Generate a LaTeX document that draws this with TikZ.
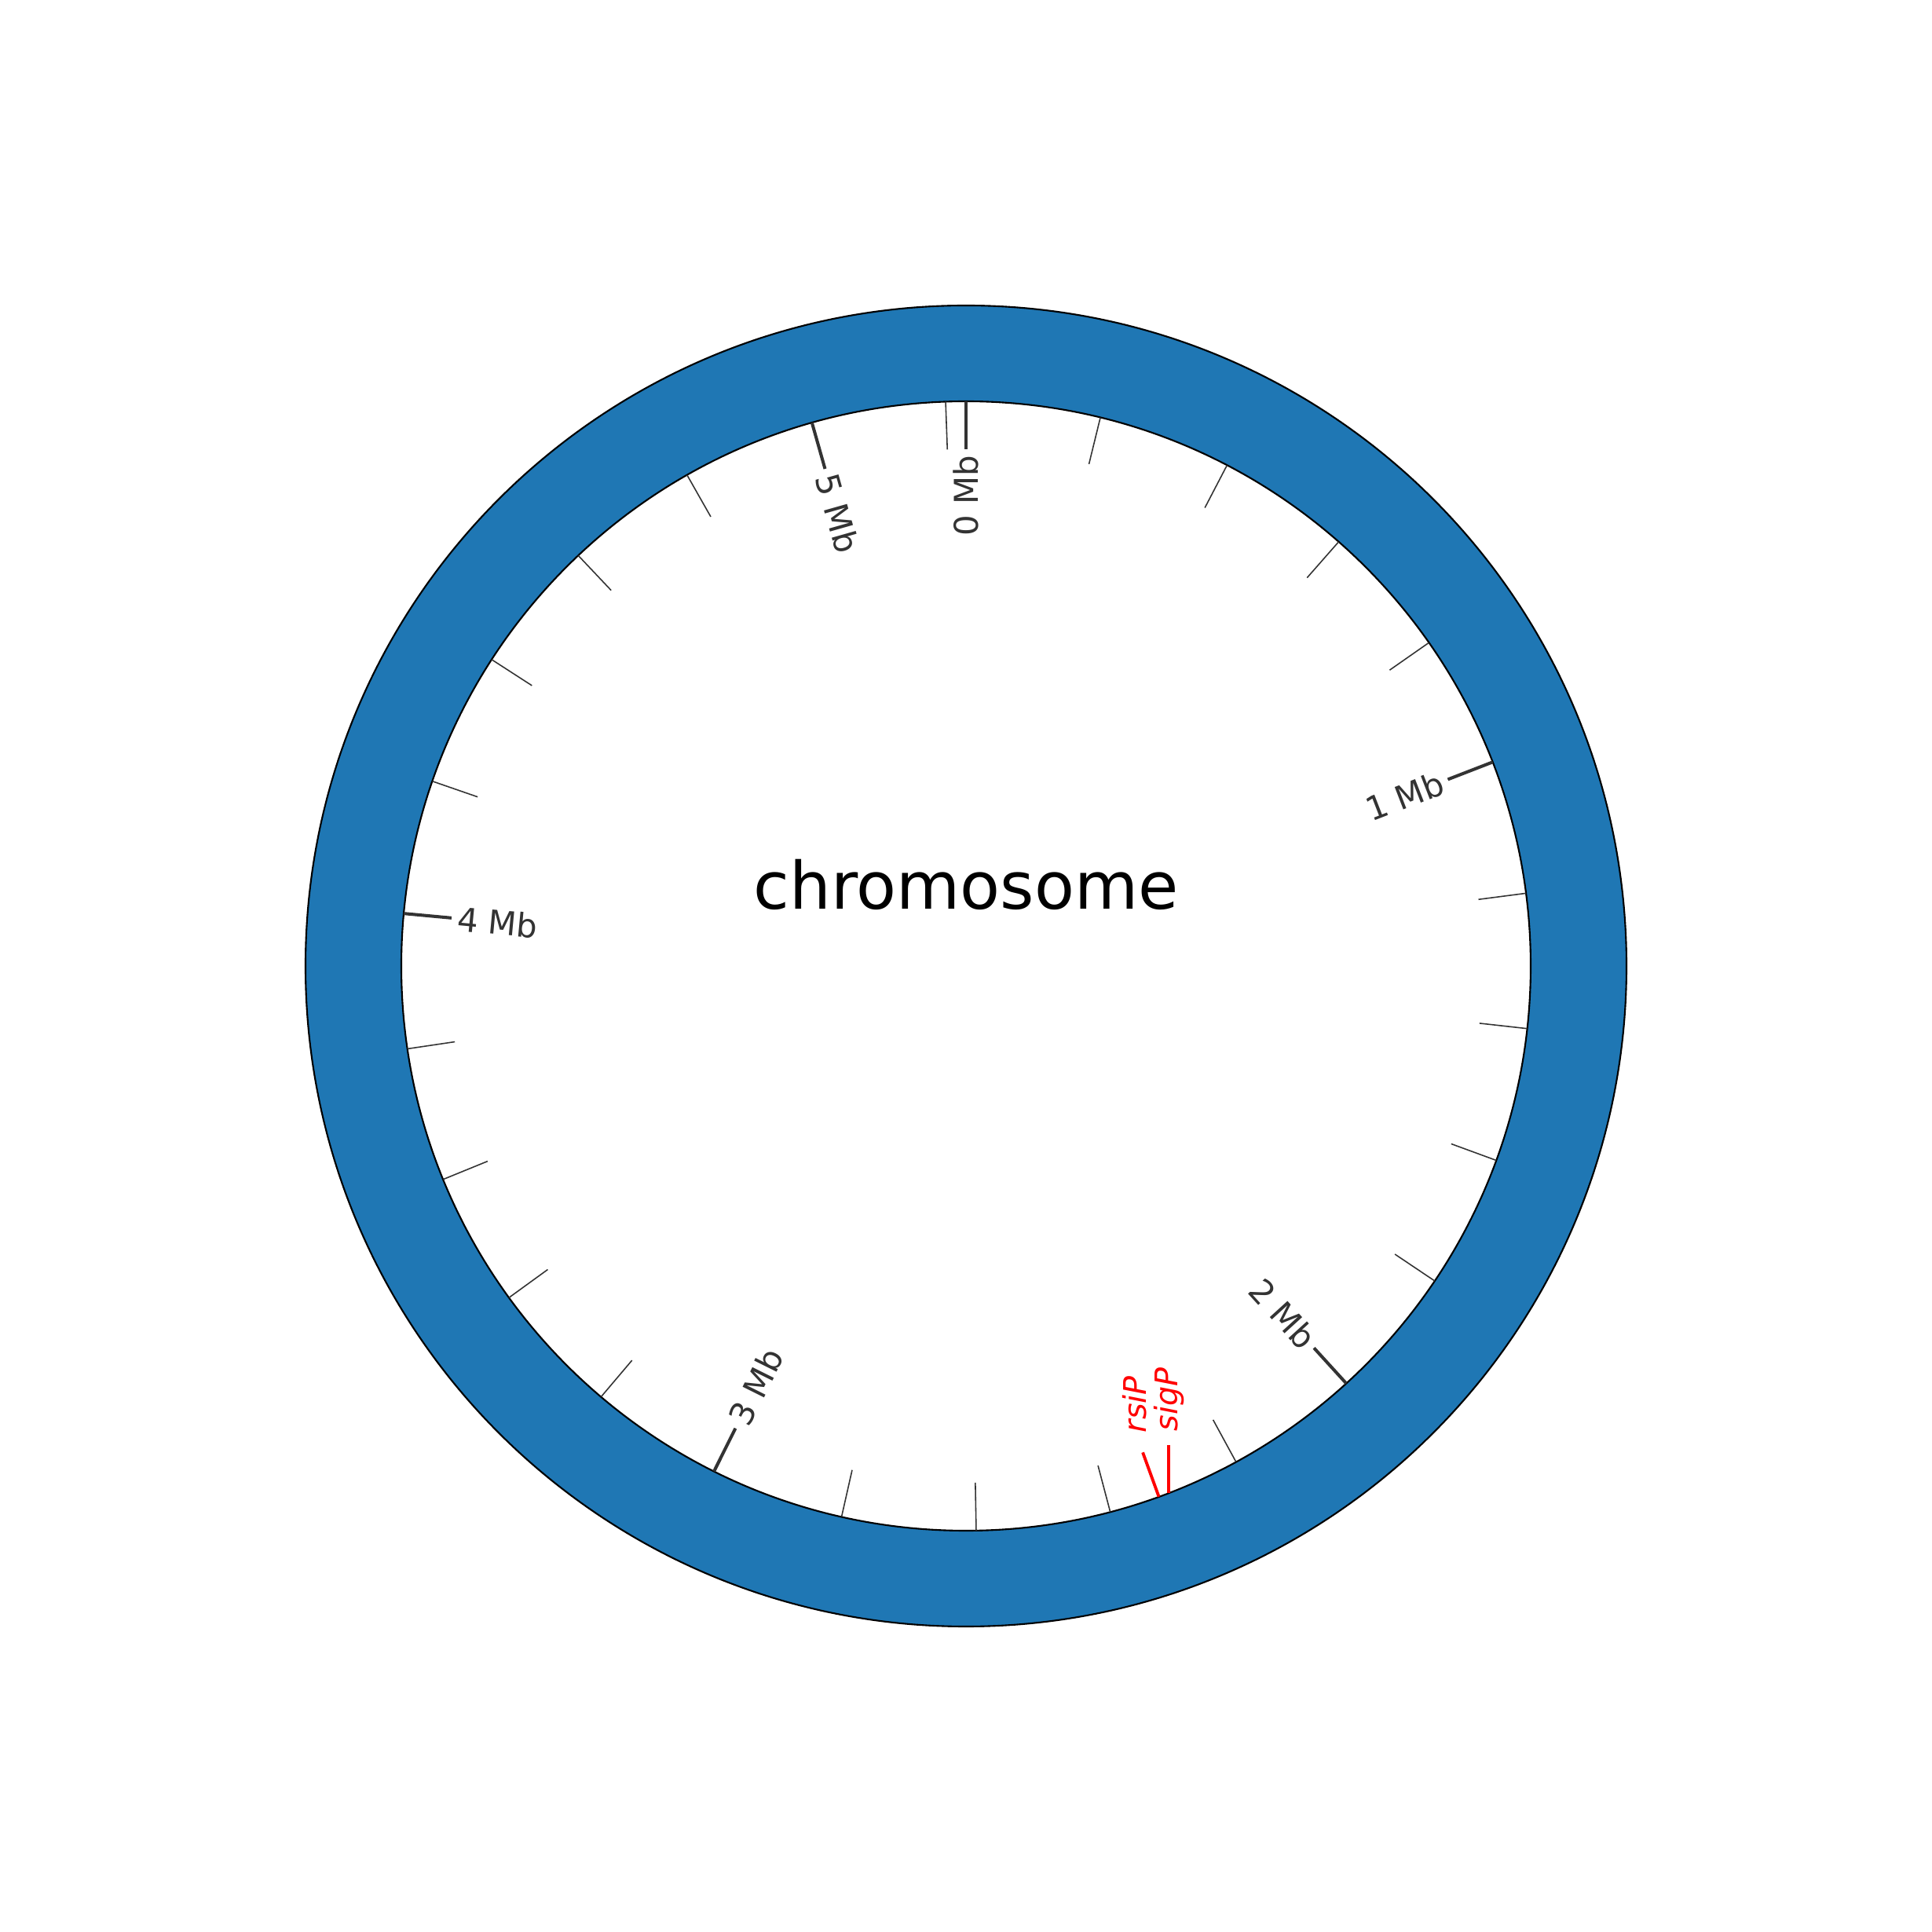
\documentclass[tikz,border=0pt]{standalone}
\usepackage{fontspec}
\setmainfont{DejaVu Sans}
\definecolor{ringblue}{HTML}{1F77B4}
\definecolor{tickgray}{HTML}{333333}

\begin{document}
\begin{tikzpicture}[
    minortick/.style={tickgray, line width=0.45pt},
    majortick/.style={tickgray, line width=1.15pt},
    ticklabel/.style={tickgray, font=\fontsize{11.9}{14}\selectfont, inner sep=0pt},
    geneline/.style={red, line width=1.1pt},
    genelabel/.style={red, font=\fontsize{11.3}{13}\selectfont\itshape, inner sep=0pt, rotate=90, anchor=west}
]
    \useasboundingbox (-12.3,-12.3) rectangle (12.3,12.3);

    % Chromosome ring
    \path[fill=ringblue, draw=black, line width=0.6pt, even odd rule]
        (0,0) circle (8.41) (0,0) circle (7.19);

    % Minor ticks (every 0.2 Mb, genome 5.23 Mb)
    \foreach \i in {0,...,26} {
        \pgfmathsetmacro{\a}{90-\i*0.2*360/5.23}
        \draw[minortick] (\a:7.19) -- (\a:6.58);
    }

    % Major ticks with labels
    \foreach \m in {0,...,5} {
        \pgfmathsetmacro{\a}{90-\m*360/5.23}
        \pgfmathsetmacro{\b}{\a+180}
        \draw[majortick] (\a:7.19) -- (\a:6.58);
        \ifnum\m<3
            \node[ticklabel, rotate=\a, anchor=east] (mb\m) at (\a:6.51) {\m\ Mb};
        \else
            \node[ticklabel, rotate=\b, anchor=west] (mb\m) at (\a:6.51) {\m\ Mb};
        \fi
    }

    % Genes
    \coordinate (rsiPpos) at (-70.03:7.19);
    \coordinate (rsiPend) at (-70.03:6.59);
    \coordinate (sigPpos) at (-68.97:7.19);
    \coordinate (sigPend) at (sigPpos |- 0,-6.10);
    \draw[geneline] (rsiPpos) -- (rsiPend);
    \draw[geneline] (sigPpos) -- (sigPend);
    \node[genelabel] (rsiP) at (2.15,-5.95) {rsiP};
    \node[genelabel] (sigP) at (2.59,-5.93) {sigP};

    % Title
    \node[font=\fontsize{23.7}{28}\selectfont, anchor=base, inner sep=0pt] (title) at (0,0.72) {chromosome};
\end{tikzpicture}
\end{document}
